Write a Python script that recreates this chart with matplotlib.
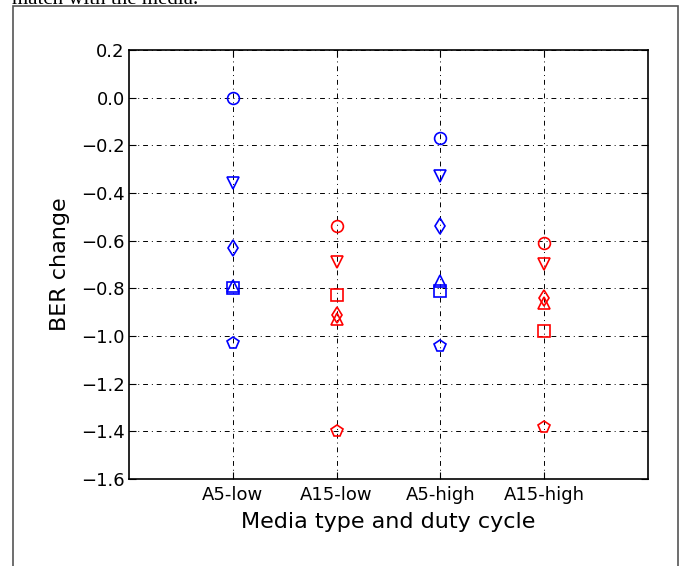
import numpy as np
import matplotlib.pyplot as plt
from matplotlib.patches import Rectangle

# BER change per media / duty cycle, one list per marker type
categories = ['A5-low', 'A15-low', 'A5-high', 'A15-high']
colors = ['b', 'r', 'b', 'r']
markers = ['o', 'v', 'd', 's', '^', 'p']

circle = [0.0, -0.54, -0.17, -0.61]
tri_down = [-0.36, -0.69, -0.33, -0.70]
diamond = [-0.63, -0.91, -0.54, -0.84]
square = [-0.80, -0.83, -0.81, -0.98]
tri_up = [-0.79, -0.93, -0.77, -0.86]
pentagon = [-1.03, -1.40, -1.04, -1.38]
series = [circle, tri_down, diamond, square, tri_up, pentagon]

fig = plt.figure(figsize=(6.88, 5.66), dpi=100)
ax = fig.add_axes([0.1875, 0.1537, 0.7545, 0.758])

x = np.arange(1, len(categories) + 1)
for m, vals in zip(markers, series):
    for xi, v, c in zip(x, vals, colors):
        ax.plot(xi, v, marker=m, mfc='none', mec=c, mew=1.2, ms=8.5, ls='none',
                zorder=3)

ax.set_xlim(0, 5)
ax.set_ylim(-1.6, 0.2)
ax.set_xticks(x)
ax.set_xticklabels(categories)
yt = np.arange(-1.6, 0.21, 0.2)
ax.set_yticks(yt)
ax.set_yticklabels(['\u2212%.1f' % abs(t) if t < -1e-9 else '%.1f' % abs(t) for t in yt])
ax.grid(True, color='k', lw=0.7, dashes=(5, 4, 1, 4))
ax.tick_params(direction='in', top=True, right=True, length=5, labelsize=13)
ax.tick_params(axis='y', pad=3)
ax.tick_params(axis='x', pad=5)
for s in ax.spines.values():
    s.set_linewidth(1.2)
ax.set_xlabel('Media type and duty cycle', fontsize=16, labelpad=6)
ax.set_ylabel('BER change', fontsize=16, labelpad=8)

# page frame and caption text above it
fig.patches.append(Rectangle((12.5 / 688, -0.1), 665 / 688, 1.1 - 6 / 566,
                             transform=fig.transFigure, fill=False,
                             ec='#555555', lw=1.2))
fig.text(12 / 688, 1 - 4 / 566, 'match with the media.', family='Liberation Serif',
         fontsize=15, va='baseline', ha='left')

fig.savefig('out.png', dpi=100)
